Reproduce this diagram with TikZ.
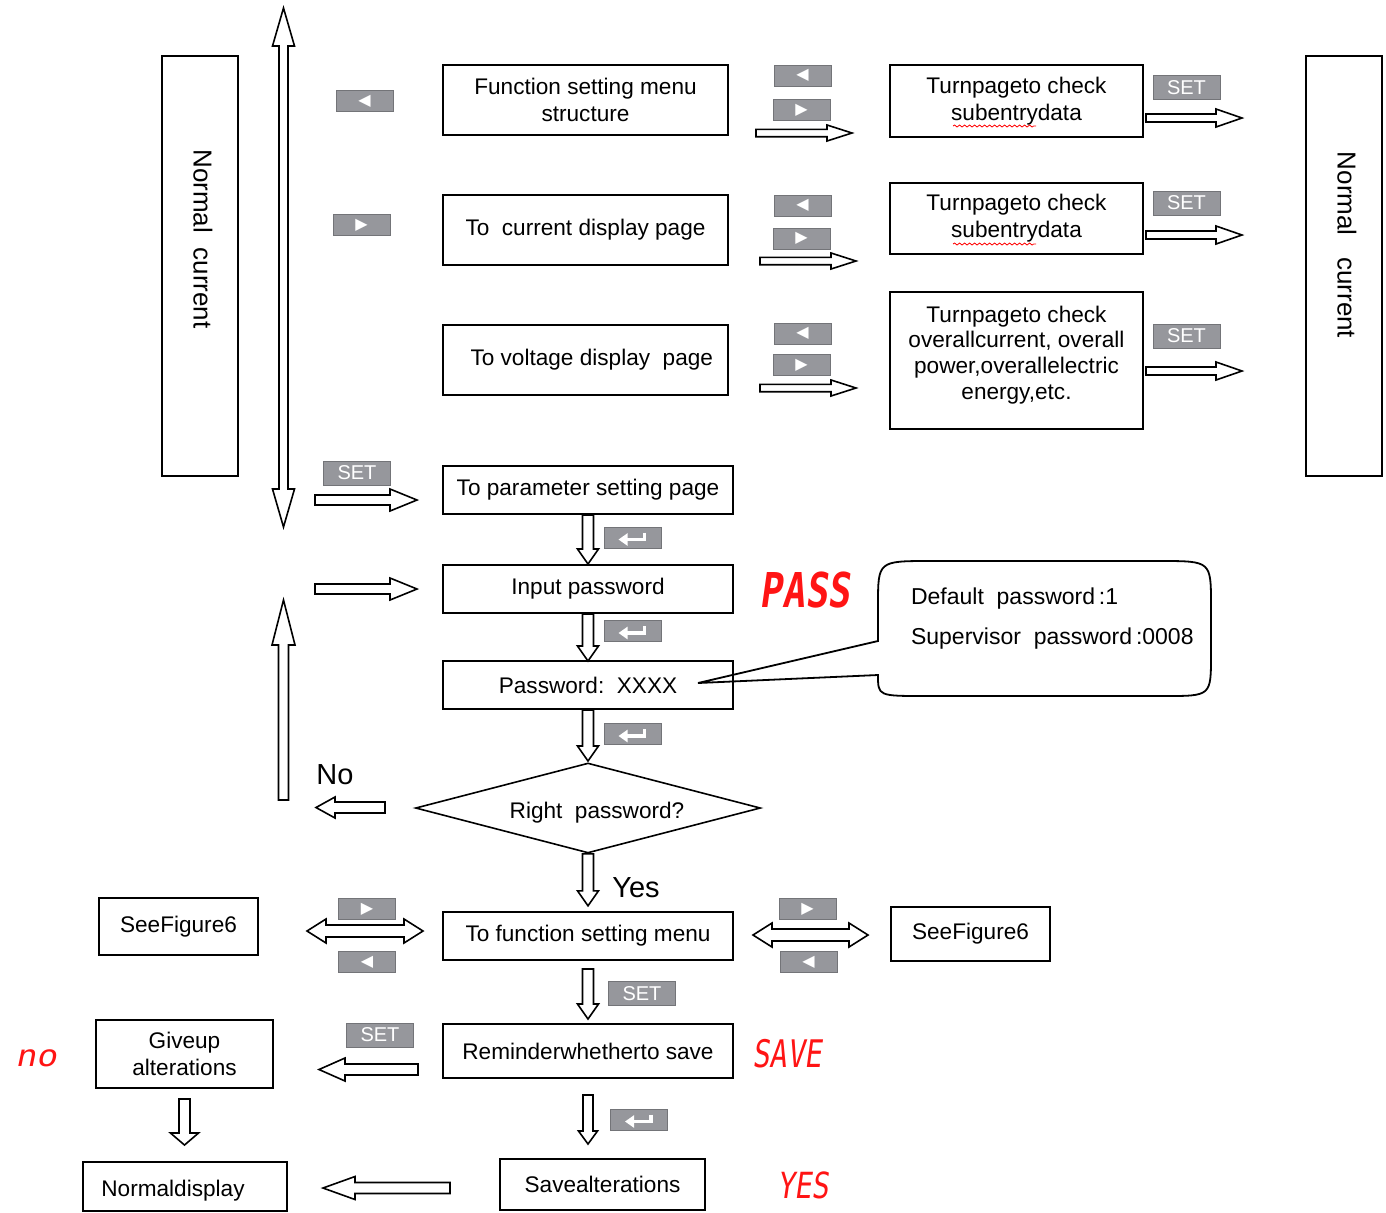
\documentclass[tikz,border=0pt]{standalone}
\usepackage{fontspec}
\setmainfont{Liberation Sans}
\newfontfamily\symfont{DejaVu Sans}
\newfontfamily\segfont{DejaVu Sans Mono}[FakeSlant=0.18]
\usetikzlibrary{shapes.geometric, arrows.meta, decorations.pathmorphing}

\definecolor{keygray}{RGB}{150,151,156}
\definecolor{keyedge}{RGB}{115,116,120}
\definecolor{segred}{RGB}{255,20,20}

% hollow block arrows: start, angle, length, shaft half width, head half width, head length
\newcommand{\blockarrow}[6]{%
	\draw[hollow, shift={#1}, rotate=#2] (0,-#4) -- ({#3-#6},-#4) -- ({#3-#6},-#5) -- (#3,0) -- ({#3-#6},#5) -- ({#3-#6},#4) -- (0,#4) -- cycle;}
\newcommand{\dblockarrow}[6]{%
	\draw[hollow, shift={#1}, rotate=#2] (0,0) -- (#6,-#5) -- (#6,-#4) -- ({#3-#6},-#4) -- ({#3-#6},-#5) -- (#3,0) -- ({#3-#6},#5) -- ({#3-#6},#4) -- (#6,#4) -- (#6,#5) -- cycle;}

\begin{document}
\begin{tikzpicture}[x=0.5pt, y=-0.5pt, font=\fontsize{11.3}{13.5}\selectfont,
	box/.style={draw, line width=1pt, inner sep=0pt, align=center},
	hollow/.style={draw, line width=0.8pt, fill=white},
	key/.style={fill=keygray, draw=keyedge, line width=0.3pt, inner sep=0pt, minimum width=28.5pt, minimum height=10.5pt, text=white, font=\symfont\fontsize{8}{8}\selectfont},
	setkey/.style={key, minimum width=33.5pt, minimum height=12pt, font=\fontsize{10}{10}\selectfont},
	seg/.style={text=segred, inner sep=0pt}]
	\useasboundingbox (0,0) rectangle (1386,1212);

	% Side columns
	\node[box, minimum width=38pt, minimum height=210pt] (nl) at (200,266) {};
	\node[box, minimum width=38pt, minimum height=210pt] (nr) at (1344,266) {};
	\node[rotate=-90, font=\fontsize{13}{15}\selectfont] (nlt) at (203,239) {Normal\ \ current};
	\node[rotate=-90, font=\fontsize{13}{15}\selectfont] (nrt) at (1347,245) {Normal\ \ \ current};

	% Main boxes
	\node[box, minimum width=142.5pt, minimum height=35pt] (fm) at (585.5,100) {Function setting menu\\structure};
	\node[box, minimum width=142.5pt, minimum height=35pt] (cur) at (585.5,230) {To\ \ current display page};
	\node[box, minimum width=142.5pt, minimum height=35pt] (vol) at (585.5,360) {\ \ To voltage display\ \ page};
	\node[box, minimum width=126.5pt, minimum height=36pt] (t1) at (1016.5,101) {Turnpageto check\\subentrydata};
	\node[box, minimum width=126.5pt, minimum height=35.5pt] (t2) at (1016.5,218.5) {Turnpageto check\\subentrydata};
	\node[box, minimum width=126.5pt, minimum height=68.5pt, font=\fontsize{11.3}{12.8}\selectfont] (t3) at (1016.5,360.5) {Turnpageto check\\overallcurrent, overall\\power,overallelectric\\energy,etc.\\[-4.8pt]};
	\node[box, minimum width=145pt, minimum height=24pt] (par) at (588,490) {To parameter setting page};
	\node[box, minimum width=145pt, minimum height=24pt] (inp) at (588,589) {Input password};
	\node[box, minimum width=145pt, minimum height=24pt] (pw) at (588,685) {Password:\ \ XXXX};
	\node[diamond, draw, line width=0.8pt, inner sep=0pt, shape aspect=3.83, minimum width=172.5pt, minimum height=45pt, text height=13pt, text depth=2.4pt] (dia) at (588,808) {\hspace{9pt}Right\ \ password?};
	\node[box, minimum width=145pt, minimum height=24pt] (fsm) at (588,936) {To function setting menu};
	\node[box, minimum width=145pt, minimum height=27pt] (rem) at (588,1051) {Reminderwhetherto save};
	\node[box, minimum width=102.5pt, minimum height=25.5pt] (sav) at (602.5,1184.5) {Savealterations};
	\node[box, minimum width=79.5pt, minimum height=28.5pt] (sfl) at (178.5,926.5) {SeeFigure6};
	\node[box, minimum width=79.5pt, minimum height=27pt] (sfr) at (970.5,934) {SeeFigure6};
	\node[box, minimum width=88.5pt, minimum height=34pt] (giv) at (184.5,1054) {Giveup\\alterations};
	\node[box, minimum width=102pt, minimum height=24.5pt, text height=12pt, text depth=2.4pt] (nd) at (185,1186.5) {Normaldisplay\hspace{12pt}};

	% Spell check marks
	\foreach \y in {126, 244} {
		\draw[red, line width=0.4pt, decorate, decoration={snake, amplitude=0.5pt, segment length=2.5pt}] (953,\y) -- (1036,\y);
	}

	% Arrow keys
	\foreach \n/\p in {kl1/{(364.5,101)}, kl2/{(802.5,75.5)}, kl3/{(802.5,205.5)}, kl4/{(802.5,333.5)}, kl5/{(367,962)}, kl6/{(808.5,962)}} {
		\node[key] (\n) at \p {◀};
	}
	\foreach \n/\p in {kr1/{(361.5,225)}, kr2/{(801.5,110)}, kr3/{(801.5,238.5)}, kr4/{(801.5,365)}, kr5/{(367,909)}, kr6/{(807.5,909)}} {
		\node[key] (\n) at \p {▶};
	}
	\foreach \n/\p in {s1/{(1186.5,87.5)}, s2/{(1186.5,203)}, s3/{(1186.5,336)}, s4/{(357,473)}, s5/{(642,993.5)}, s6/{(380,1035)}} {
		\node[setkey] (\n) at \p {SET};
	}
	\foreach \n/\p in {e1/{(632.5,537.5)}, e2/{(632.5,631)}, e3/{(632.5,734)}, e4/{(639,1119.5)}} {
		\node[key] (\n) at \p {};
		\draw[white, line width=1.7pt, -{Triangle[length=4.5pt, width=6pt]}] ([shift={(12,-5)}]\n.center) -- ([shift={(12,2)}]\n.center) -- ([shift={(-14,2)}]\n.center);
	}

	% Hollow arrows
	\dblockarrow{(283.5,527)}{90}{519}{4.5}{11}{38}
	\blockarrow{(283.5,800)}{90}{200}{5}{11.5}{45}
	\foreach \p in {(756,133), (760,261), (760,388)} {
		\blockarrow{\p}{0}{96}{3.7}{8}{25}
	}
	\foreach \p in {(1146,118), (1146,235), (1146,371)} {
		\blockarrow{\p}{0}{96}{4}{9}{26}
	}
	\blockarrow{(315,500)}{0}{102}{5}{11}{27}
	\blockarrow{(315,589)}{0}{102}{5}{11}{27}
	\blockarrow{(par.south)}{-90}{49}{5.5}{10.5}{15}
	\blockarrow{(inp.south)}{-90}{47}{5.5}{10.5}{15}
	\blockarrow{(pw.south)}{-90}{51}{5.5}{10.5}{15}
	\blockarrow{(dia.south)}{-90}{52}{5.5}{10.5}{15}
	\blockarrow{([yshift=-4pt]fsm.south)}{-90}{50}{5.5}{10.5}{15}
	\blockarrow{([yshift=-8pt]rem.south)}{-90}{49}{5}{9.5}{13}
	\blockarrow{([yshift=-5pt]giv.south)}{-90}{46}{5.5}{14}{12}
	\blockarrow{(385,807.5)}{180}{69}{5.5}{10.5}{19}
	\dblockarrow{(307,931)}{0}{116}{6}{12}{19}
	\dblockarrow{(753,935)}{0}{115}{6}{12}{19}
	\blockarrow{(418,1069.5)}{180}{99}{5.5}{11.5}{26}
	\blockarrow{(450,1188)}{180}{127}{5.5}{11.5}{32}

	% Decision labels
	\node[font=\fontsize{14.5}{16}\selectfont] (lno) at (335,775) {No};
	\node[font=\fontsize{14.5}{16}\selectfont] (lyes) at (636,888) {Yes};

	% Password note
	\coordinate (tip) at (698,683);
	\draw[line width=0.9pt] (tip) -- (878,641) -- (878,605) .. controls (878,561) .. (930,561) -- (1160,561) .. controls (1211,561) .. (1211,605) -- (1211,655) .. controls (1211,696) .. (1165,696) -- (925,696) .. controls (878,696) .. (878,675) -- cycle;
	\node[anchor=west, align=left, font=\fontsize{11.5}{20}\selectfont] (note) at (904,619) {Default\ \ password\,:1\\Supervisor\ \ password\,:0008};

	% Display readings
	\node[seg, xscale=0.78, font=\segfont\bfseries\fontsize{24}{24}\selectfont] (dpass) at (805,590) {PASS};
	\node[seg, xscale=0.76, font=\segfont\fontsize{19}{19}\selectfont] (dsave) at (787,1054) {SAVE};
	\node[seg, xscale=0.8, font=\segfont\fontsize{18}{18}\selectfont] (dyes) at (803,1185) {YES};
	\node[seg, xscale=1.15, font=\segfont\fontsize{15}{15}\selectfont] (dno) at (36,1058) {no};
\end{tikzpicture}
\end{document}
